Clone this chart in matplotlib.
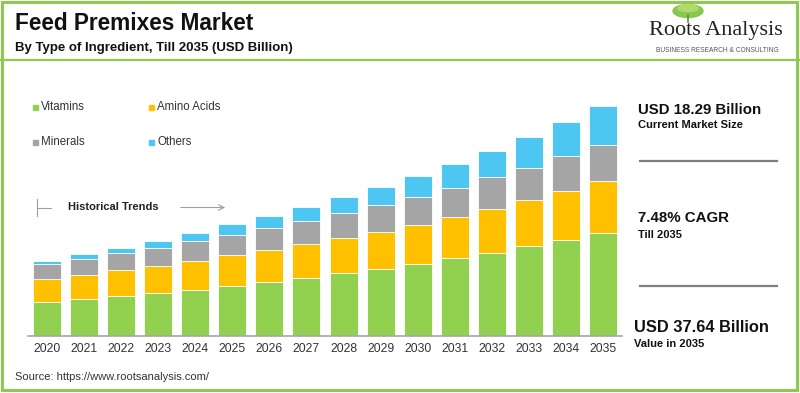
import matplotlib.pyplot as plt
from matplotlib.patches import Rectangle, Ellipse
from matplotlib.lines import Line2D
import numpy as np

plt.rcParams['font.family'] = ['Liberation Sans', 'DejaVu Sans']

# data (USD Billion)
years = ['2020', '2021', '2022', '2023', '2024', '2025', '2026', '2027',
         '2028', '2029', '2030', '2031', '2032', '2033', '2034', '2035']
vitamins = [5.56, 6.05, 6.49, 6.98, 7.52, 8.14, 8.82, 9.43,
            10.24, 10.90, 11.76, 12.70, 13.61, 14.71, 15.69, 16.88]
amino_acids = [3.71, 3.87, 4.25, 4.46, 4.69, 5.08, 5.23, 5.56,
               5.72, 6.05, 6.37, 6.75, 7.14, 7.47, 7.96, 8.45]
minerals = [2.45, 2.61, 2.78, 2.99, 3.27, 3.27, 3.59, 3.76,
            4.09, 4.41, 4.58, 4.79, 5.18, 5.33, 5.77, 5.89]
others = [0.54, 0.82, 0.87, 1.09, 1.36, 1.80, 2.01, 2.32,
          2.61, 3.04, 3.43, 3.92, 4.30, 5.07, 5.60, 6.42]

series = [('Vitamins', vitamins, '#92D050'),
          ('Amino Acids', amino_acids, '#FFC000'),
          ('Minerals', minerals, '#A5A5A5'),
          ('Others', others, '#4DC6F2')]

W, H = 800, 393
fig = plt.figure(figsize=(8, 3.93), dpi=100)

# bar chart axes (pixel layout converted to figure fractions)
ax = fig.add_axes([28 / W, (H - 336) / H, 594 / W, 250 / H])
x = np.arange(len(years))
bottom = np.zeros(len(years))
for name, vals, col in series:
    ax.bar(x, vals, 0.755, bottom=bottom, color=col, edgecolor='white',
           linewidth=0.6, label=name)
    bottom += np.array(vals)

ax.set_xlim(-0.51, 15.51)
ax.set_ylim(0, 250 * 0.16343)
ax.set_xticks(x)
ax.set_xticklabels(years, fontsize=8.7, color='#333333')
ax.tick_params(axis='x', length=0, pad=5)
ax.set_yticks([])
for s in ['top', 'right', 'left']:
    ax.spines[s].set_visible(False)
ax.spines['bottom'].set_color('#A6A6A6')
ax.spines['bottom'].set_linewidth(1.2)

# overlay in pixel coordinates
ov = fig.add_axes([0, 0, 1, 1])
ov.set_xlim(0, W)
ov.set_ylim(H, 0)
ov.axis('off')

green = '#8CCB4F'
# frame
ov.add_patch(Rectangle((1.5, 1.5), W - 4.5, H - 4.5, fill=False,
                       edgecolor=green, linewidth=2.2))
ov.add_line(Line2D([0, W], [59.5, 59.5], color=green, linewidth=1.6))

# titles
ov.text(15, 24, 'Feed Premixes Market', fontsize=16.3, fontweight='bold',
        color='#111111', va='center')
ov.text(15, 47.5, 'By Type of Ingredient, Till 2035 (USD Billion)', fontsize=9.5,
        fontweight='bold', color='#111111', va='center')

# logo
ov.add_patch(Ellipse((688, 11), 30, 13, color='#7DC242', alpha=0.9))
ov.add_patch(Ellipse((688, 8), 20, 7, color='#B5DC6A', alpha=0.9))
ov.add_line(Line2D([688, 688], [15, 22], color='#6B8E3A', linewidth=1.2))
ov.text(716, 30, 'Roots Analysis', fontsize=16, family='Liberation Serif',
        color='#222222', ha='center', va='center')
ov.text(717, 50, 'BUSINESS RESEARCH & CONSULTING', fontsize=4.8,
        color='#555555', ha='center', va='center')

# legend
leg_pos = [(35, 107), (151, 107), (35, 142), (151, 142)]
for (name, vals, col), (lx, ly) in zip(series, leg_pos):
    ov.add_patch(Rectangle((lx - 2.5, ly - 2.5), 5, 5, color=col))
    ov.text(lx + 6, ly, name, fontsize=8.3, color='#333333', va='center')

# historical trends marker
ov.add_line(Line2D([37, 37], [199, 216], color='#A0A0A0', linewidth=0.8))
ov.add_line(Line2D([37, 51], [207.5, 207.5], color='#A0A0A0', linewidth=0.8))
ov.text(68, 207.5, 'Historical Trends', fontsize=8, fontweight='bold',
        color='#222222', va='center')
ov.annotate('', xy=(228, 207.5), xytext=(178, 207.5),
            arrowprops=dict(arrowstyle='->', color='#A0A0A0', lw=0.8))

# right panel
ov.text(638, 110, 'USD 18.29 Billion', fontsize=10.8, fontweight='bold',
        color='#111111', va='center')
ov.text(638, 125, 'Current Market Size', fontsize=8, fontweight='bold',
        color='#111111', va='center')
ov.add_line(Line2D([640, 777], [160.5, 160.5], color='#808080', linewidth=1.6))
ov.text(638, 218, '7.48% CAGR', fontsize=10.8, fontweight='bold',
        color='#111111', va='center')
ov.text(638, 235, 'Till 2035', fontsize=8, fontweight='bold',
        color='#111111', va='center')
ov.add_line(Line2D([640, 777], [286, 286], color='#808080', linewidth=1.6))
ov.text(634, 327, 'USD 37.64 Billion', fontsize=11.8, fontweight='bold',
        color='#111111', va='center')
ov.text(634, 344, 'Value in 2035', fontsize=8, fontweight='bold',
        color='#111111', va='center')

# source
ov.text(15, 377, 'Source: https://www.rootsanalysis.com/', fontsize=8,
        color='#333333', va='center')

fig.savefig('out.png', dpi=100)
